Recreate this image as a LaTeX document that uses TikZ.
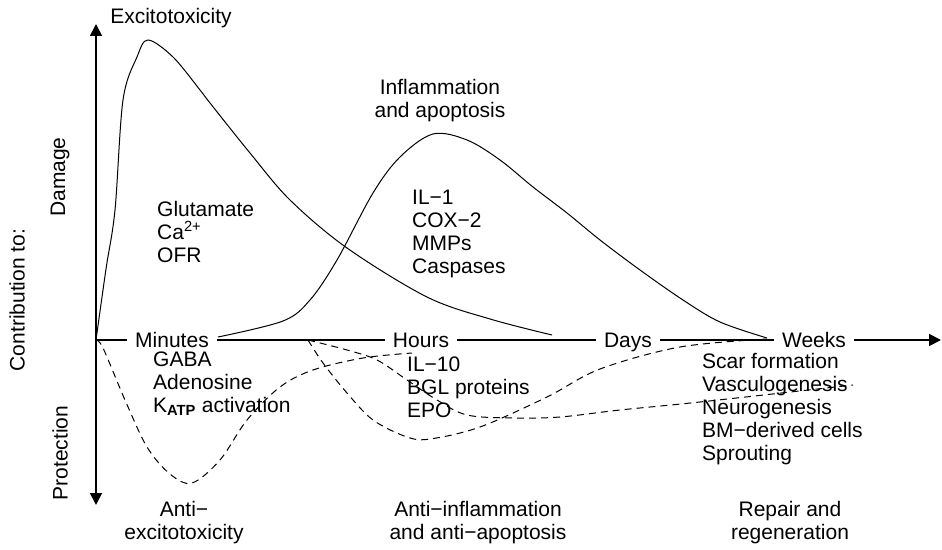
\documentclass[tikz,border=0pt]{standalone}
\usepackage{fontspec}
\setmainfont{Liberation Sans}
\usetikzlibrary{arrows.meta}

\begin{document}
\begin{tikzpicture}[x=1pt, y=1pt, every node/.style={font=\fontsize{21}{23}\selectfont}, >={Triangle[length=12pt, width=12pt]},
	axis/.style={line width=1.8pt},
	tick/.style={fill=white, inner xsep=8pt, inner ysep=0pt, text height=15pt, text depth=0pt},
	curve/.style={line width=1pt},
	prot/.style={line width=1pt, dash pattern=on 7pt off 5pt},
	lst/.style={align=left, anchor=west, inner sep=0pt},
	ttl/.style={align=center, inner sep=0pt}]
	\useasboundingbox (0,0) rectangle (942,549);
	% axes
	\coordinate (o) at (96,209);
	\coordinate (top) at (96,525);
	\coordinate (bot) at (96,44);
	\coordinate (xend) at (941,209);
	\draw[axis, ->] (o) -- (top);
	\draw[axis, ->] (o) -- (bot);
	\node[tick] (min) at (172,209) {Minutes};
	\node[tick] (hrs) at (421,209) {Hours};
	\node[tick] (day) at (628,209) {Days};
	\node[tick] (wks) at (814,209) {Weeks};
	\draw[axis] (o) -- (min) -- (hrs) -- (day) -- (wks);
	\draw[axis, ->] (wks) -- (xend);
	% damage curves
	\draw[curve] plot[smooth, tension=0.55] coordinates {(96,209) (106,280) (115,339) (123,449) (137,492) (148,509) (173,492) (200,459) (210,446) (250,396) (290,349) (347,301) (427,252) (490,230) (552,214)};
	\draw[curve] plot[smooth, tension=0.55] coordinates {(218,212) (283,228) (310,249) (337,289) (373,356) (400,392) (433,415) (467,409) (500,389) (533,362) (567,336) (600,309) (640,279) (683,249) (720,227) (767,211)};
	% protection curves
	\draw[prot] plot[smooth, tension=0.55] coordinates {(96,209) (103,201) (125,149) (147,102) (170,75) (192,66) (220,89) (247,129) (280,162) (313,179) (363,191) (412,196)};
	\draw[prot] plot[smooth, tension=0.55] coordinates {(308,209) (323,186) (347,156) (373,129) (407,112) (430,110) (480,122) (547,152) (600,180) (680,202) (767,210)};
	\draw[prot] plot[smooth, tension=0.55] coordinates {(308,209) (347,199) (377,189) (407,169) (437,149) (467,134) (513,131) (560,132) (620,139) (700,147) (853,164)};
	% labels
	\node[rotate=90] (dmg) at (60,372) {Damage};
	\node[rotate=90] (ctb) at (17,249) {Contribution to:};
	\node[rotate=90] (prt) at (60,96) {Protection};
	\node[ttl] (exc) at (171,531) {Excitotoxicity};
	\node[ttl] (infl) at (440,448) {Inflammation\\and apoptosis};
	\node[lst] (glu) at (157,317) {Glutamate\\Ca\textsuperscript{2+}\\OFR};
	\node[lst] (il1) at (412,315) {IL−1\\COX−2\\MMPs\\Caspases};
	\node[lst] (gaba) at (153,165) {GABA\\Adenosine\\K\textsubscript{\bfseries ATP} activation};
	\node[lst] (il10) at (407,162) {IL−10\\BGL proteins\\EPO};
	\node[lst] (scar) at (702,140) {Scar formation\\Vasculogenesis\\Neurogenesis\\BM−derived cells\\Sprouting};
	\node[ttl] (aexc) at (184,26) {Anti−\\excitotoxicity};
	\node[ttl] (ainf) at (478,26) {Anti−inflammation\\and anti−apoptosis};
	\node[ttl] (rep) at (790,26) {Repair and\\regeneration};
\end{tikzpicture}
\end{document}
